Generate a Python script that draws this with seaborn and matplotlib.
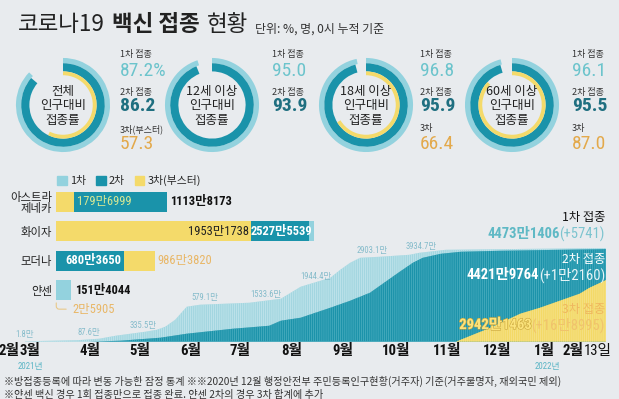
import matplotlib
matplotlib.use("Agg")
import matplotlib.dates as mdates
import matplotlib.patheffects as pe
import matplotlib.pyplot as plt
import numpy as np
import pandas as pd
import seaborn as sns
from matplotlib.patches import Patch

DONUT_TITLES = ["전체\n인구대비\n접종률", "12세 이상\n인구대비\n접종률",
                "18세 이상\n인구대비\n접종률", "60세 이상\n인구대비\n접종률"]
RATE_1ST = [87.2, 95.0, 96.8, 96.1]
RATE_2ND = [86.2, 93.9, 95.9, 95.5]
RATE_3RD = [57.3, None, 66.4, 87.0]
RATE_3RD_NAME = ["3차(부스터)", None, "3차", "3차"]

VACCINES = ["아스트라\n제네카", "화이자", "모더나", "얀센"]
DOSES = ["1차", "2차", "3차(부스터)"]
COUNT_1ST = [11138173, 25760000, 6803650, 1514044]
COUNT_2ND = [11138173, 25275539, 6803650, 0]
COUNT_3RD = [1796999, 19531738, 9863820, 25905]

# cumulative doses in 만 명, heights
FIRST_DATES = ["2021-02-26", "2021-03-30", "2021-04-12", "2021-04-22", "2021-05-01",
               "2021-05-10", "2021-05-17", "2021-05-22", "2021-05-28", "2021-06-04",
               "2021-06-12", "2021-07-12", "2021-07-31", "2021-08-12", "2021-08-30",
               "2021-09-05", "2021-09-11", "2021-09-17", "2021-09-29", "2021-10-17",
               "2021-10-23", "2021-11-08", "2022-02-13"]
FIRST_MAN = [19, 72, 143, 286, 382, 477, 572, 716, 1049, 1670, 1765, 1860, 2051,
             2624, 3053, 3434, 3768, 4007, 4055, 4150, 4245, 4388, 4473.1406]
SECOND_DATES = ["2021-04-06", "2021-04-25", "2021-05-19", "2021-06-04", "2021-07-02",
                "2021-07-17", "2021-07-24", "2021-07-31", "2021-08-12", "2021-08-30",
                "2021-09-11", "2021-09-23", "2021-09-29", "2021-10-05", "2021-10-11",
                "2021-10-19", "2021-10-25", "2021-11-05", "2021-11-17", "2021-12-11",
                "2022-02-13"]
SECOND_MAN = [0, 48, 191, 382, 620, 716, 763, 1002, 1145, 1622, 1956, 2337, 2671,
              3005, 3339, 3768, 4007, 4198, 4293, 4341, 4421.9764]
THIRD_DATES = ["2021-11-14", "2021-11-23", "2021-12-05", "2021-12-14", "2021-12-23",
               "2022-01-04", "2022-01-16", "2022-01-28", "2022-02-03", "2022-02-13"]
THIRD_MAN = [0, 286, 668, 1002, 1336, 1622, 1956, 2290, 2576, 2942.1463]

MILESTONE_DATES = ["2021-02-26", "2021-04-01", "2021-05-01", "2021-06-01",
                   "2021-07-01", "2021-08-01", "2021-09-01", "2021-10-01"]
MILESTONE_TEXT = ["1.8만", "87.6만", "335.5만", "579.1만", "1533.6만", "1944.4만",
                  "2903.1만", "3934.7만"]

TOTALS = [("1차 접종", "4473만1406", "(+5741)"),
          ("2차 접종", "4421만9764", "(+1만2160)"),
          ("3차 접종", "2942만1463", "(+16만8995)")]

NOTES = ["※방접종등록에 따라 변동 가능한 잠정 통계 ※※2020년 12월 행정안전부 "
         "주민등록인구현황(거주자) 기준(거주불명자, 재외국민 제외)",
         "※얀센 백신 경우 1회 접종만으로 접종 완료. 얀센 2차의 경우 3차 합계에 추가"]

# ---- style -------------------------------------------------------------------
BG = "#e8ebee"
C1, C2, C3 = "#93d2de", "#1a93aa", "#f4da6a"
T1, T2, T3 = "#6cc4cc", "#1f6f80", "#e3a94b"
MILESTONE_NUDGE_PX = [-10, -4, -1, 10, 19, 18, 23, 22]

sns.set_theme(style="white")
plt.rcParams["font.family"] = ["Noto Sans CJK KR", "DejaVu Sans"]
plt.rcParams["hatch.linewidth"] = 0.5
NUM = ["Roboto Condensed", "Noto Sans CJK KR"]

W, H = 619, 399
fig = plt.figure(figsize=(W / 100, H / 100), dpi=100, facecolor=BG)


def box(x0, y0, x1, y1):
    return [x0 / W, 1 - y1 / H, (x1 - x0) / W, (y1 - y0) / H]


def man(n):
    a, b = divmod(int(n), 10000)
    return f"{a}만{b}" if b else f"{a}만"


# ---- donuts ------------------------------------------------------------------
DONUT_X = [63, 212, 366, 512]
TEXT_X = [120, 272, 420, 572]
for i, cx in enumerate(DONUT_X):
    ax = fig.add_axes(box(cx - 48, 105 - 48, cx + 48, 105 + 48))
    rings = [(RATE_1ST[i], C1, 0.98, 0.11), (RATE_2ND[i], C2, 0.87, 0.17),
             (RATE_3RD[i], C3, 0.70, 0.08)]
    for v, c, r, w in rings:
        if v is None:
            continue
        ax.pie([v, 100 - v], radius=r, startangle=90, counterclock=False,
               colors=[c, (0, 0, 0, 0)], wedgeprops=dict(width=w, linewidth=0))
    ax.set_xlim(-1, 1)
    ax.set_ylim(-1, 1)
    ax.set_aspect("equal")
    ax.axis("off")
    ax.text(0, -0.02, DONUT_TITLES[i], ha="center", va="center", fontsize=9,
            linespacing=1.15, color="#222")

# ---- bars --------------------------------------------------------------------
bar_df = pd.DataFrame({
    "vaccine": VACCINES * 3,
    "dose": [d for d in DOSES for _ in VACCINES],
    "man": np.array(COUNT_1ST + COUNT_2ND + COUNT_3RD) / 1e4,
})
axb = fig.add_axes(box(56, 187, 356, 305))
sns.barplot(data=bar_df, x="man", y="vaccine", hue="dose", hue_order=DOSES,
            order=VACCINES, dodge=False, palette=[C1, C2, C3], width=0.67,
            saturation=1, errorbar=None, orient="y", legend=False, ax=axb)
for p in axb.patches:
    p.set_linewidth(0)
    p.set_zorder(10 - p.get_width() / 1000)
axb.set_xlim(0, 3000)
axb.set_xticks([])
axb.set_xlabel("")
axb.set_ylabel("")
axb.set_facecolor("none")
sns.despine(ax=axb, left=True, bottom=True)
axb.tick_params(axis="y", length=0, pad=3, labelsize=8.2, labelcolor="#222")
for lab in axb.get_yticklabels():
    lab.set_linespacing(1.0)
axb.legend([Patch(color=c) for c in (C1, C2, C3)], DOSES, loc="lower left",
           bbox_to_anchor=(0, 1.0), ncol=3, frameon=False, handlelength=0.9,
           handleheight=0.9, handletextpad=0.3, columnspacing=0.9, fontsize=7.8,
           borderaxespad=0.1, borderpad=0)


def note(value, row, text, color, ha, dx, weight="bold"):
    axb.annotate(text, xy=(value / 1e4, row), xytext=(dx, 0), textcoords="offset points",
                 ha=ha, va="center", color=color, fontsize=9, fontweight=weight,
                 family=NUM, zorder=20)


note(COUNT_3RD[0], 0, man(COUNT_3RD[0]), "#d6e794", "left", 2, "normal")
note(COUNT_2ND[0], 0, man(COUNT_1ST[0]), "#111", "left", 2)
note(COUNT_3RD[1], 1, man(COUNT_3RD[1]), "#222", "right", -2, "normal")
note(COUNT_1ST[1], 1, man(COUNT_2ND[1]), "white", "right", -1)
note(COUNT_2ND[2], 2, man(COUNT_2ND[2]), "white", "right", -2)
note(COUNT_3RD[2], 2, man(COUNT_3RD[2]), "#e9b767", "left", 2, "normal")
note(COUNT_1ST[3], 3, man(COUNT_1ST[3]), "#111", "left", 3)
axb.annotate(man(COUNT_3RD[3]), xy=(COUNT_3RD[3] / 1e4, 3 + 0.335), xytext=(11.5, -6.5),
             textcoords="offset points", ha="left", va="center", color="#e9b767",
             fontsize=9, family=NUM,
             arrowprops=dict(arrowstyle="-", color="#e9c98a", lw=0.8,
                             connectionstyle="angle,angleA=0,angleB=90,rad=3"))

# ---- cumulative area ---------------------------------------------------------
start = pd.Timestamp(FIRST_DATES[0])
end = pd.Timestamp(FIRST_DATES[-1])
px_day = 581 / 352
axa = fig.add_axes(box(2, 200, 612, 341.7))
axa.set_facecolor("none")
d1, d2, d3 = (pd.to_datetime(d) for d in (FIRST_DATES, SECOND_DATES, THIRD_DATES))
axa.fill_between(d1, 0, FIRST_MAN, facecolor="#a3d6e0", edgecolor="#c6e7ed",
                 hatch="|" * 8, linewidth=0)
axa.fill_between(d2, 0, SECOND_MAN, facecolor="#1c93aa", edgecolor="#4fb0c2",
                 hatch="|" * 8, linewidth=0)
axa.fill_between(d3, 0, THIRD_MAN, facecolor="#f3d966", edgecolor="#f6e38f",
                 hatch="|" * 8, linewidth=0)
axa.set_xlim(start - pd.Timedelta(days=23 / px_day), end + pd.Timedelta(days=6 / px_day))
axa.set_ylim(0, 141.7 * FIRST_MAN[-1] / 93.7)
axa.axis("off")

for d, t, nudge in zip(MILESTONE_DATES, MILESTONE_TEXT, MILESTONE_NUDGE_PX):
    x = pd.Timestamp(d) + pd.Timedelta(days=(nudge + 12) / px_day)
    y = np.interp(mdates.date2num(x), mdates.date2num(d1), FIRST_MAN)
    axa.annotate(t, xy=(pd.Timestamp(d), y), xytext=(nudge * 0.72, 1.5),
                 textcoords="offset points", ha="left", va="bottom", fontsize=6.2,
                 color="#86bccb", family=NUM)

MONTH_FS = 10.6
lab_kw = dict(textcoords="offset points", va="top", fontsize=MONTH_FS, family=NUM,
              color="#111", annotation_clip=False)
t3 = axa.annotate("3월", xy=(pd.Timestamp("2021-03-01"), 0),
                  xycoords=("data", "axes fraction"), xytext=(0, -1.5), ha="center",
                  fontweight="bold", **lab_kw)
axa.annotate("2월", xy=(0, 0), xycoords=t3, ha="right", va="bottom", fontsize=MONTH_FS,
             family=NUM, fontweight="bold", color="#111")
for m in pd.date_range("2021-04-01", "2022-01-01", freq="MS"):
    axa.annotate(f"{m.month}월", xy=(m, 0), xycoords=("data", "axes fraction"),
                 xytext=(-1, -1.5), ha="left", fontweight="bold", **lab_kw)
t13 = axa.annotate("13일", xy=(end, 0), xycoords=("data", "axes fraction"),
                   xytext=(4.3, -1.5), ha="right", **lab_kw)
axa.annotate("2월", xy=(0, 0), xycoords=t13, ha="right", va="bottom", fontsize=MONTH_FS,
             family=NUM, fontweight="bold", color="#111")
for y_txt, when, ha in (("2021년", "2021-03-01", "center"), ("2022년", "2022-01-01", "left")):
    axa.annotate(y_txt, xy=(pd.Timestamp(when), 0), xycoords=("data", "axes fraction"),
                 xytext=(0, -17.5), textcoords="offset points", ha=ha, va="center",
                 fontsize=6.4, color="#5bb5c5", family=NUM)

# ---- overlay text ------------------------------------------------------------
over = fig.add_axes([0, 0, 1, 1])
over.set_xlim(0, W)
over.set_ylim(H, 0)
over.axis("off")

t = over.text(18, 36, "코로나19", fontsize=16.2, color="#222", va="bottom",
              fontweight="light")
for part, wt in (("백신 접종", "bold"), ("현황", "light")):
    t = over.annotate(part, xy=(1, 0), xycoords=t, xytext=(5, 0),
                      textcoords="offset points", fontsize=16.2, fontweight=wt,
                      color="#222", va="bottom")
over.text(255, 29, "단위: %, 명, 0시 누적 기준", fontsize=8.6, color="#333", va="center")

for i, x in enumerate(TEXT_X):
    over.text(x, 54, "1차 접종", fontsize=6.5, color="#333", va="center")
    over.text(x, 71, f"{RATE_1ST[i]:.1f}" + ("%" if i == 0 else ""), fontsize=14,
              color=T1, va="center", family=NUM)
    over.text(x, 92, "2차 접종", fontsize=6.5, color="#333", va="center")
    over.text(x, 106, f"{RATE_2ND[i]:.1f}", fontsize=14, color=T2, va="center",
              family=NUM, fontweight="bold")
    if RATE_3RD[i] is not None:
        over.text(x, 129, RATE_3RD_NAME[i], fontsize=6.5, color="#333", va="center")
        over.text(x, 144, f"{RATE_3RD[i]:.1f}", fontsize=14, color=T3, va="center",
                  family=NUM)

total_style = [("#111", "#5fb9c5", "#7cc4cf"), ("white", "white", "#e6f4f7"),
               ("#efb75e", "#fbe37c", "#f0c36c")]
for k, ((name, num, diff), (cn, cv, cd), y) in enumerate(
        zip(TOTALS, total_style, (218, 259, 309))):
    over.text(605, y, name, ha="right", va="center", fontsize=8.8, color=cn)
    td = over.text(605, y + 16, diff, ha="right", va="center", fontsize=10.5,
                   color=cd, family=NUM)
    tn = over.annotate(num, xy=(0, 0.5), xycoords=td, ha="right", va="center",
                       fontsize=10.5, color=cv, family=NUM, fontweight="bold")
    if k == 2:
        tn.set_path_effects([pe.withStroke(linewidth=0.8, foreground="#c9a53c")])

over.text(4, 381, NOTES[0], fontsize=7.3, color="#333", va="center")
over.text(4, 395, NOTES[1], fontsize=7.3, color="#333", va="center")

fig.savefig("out.png", dpi=100, facecolor=BG)
